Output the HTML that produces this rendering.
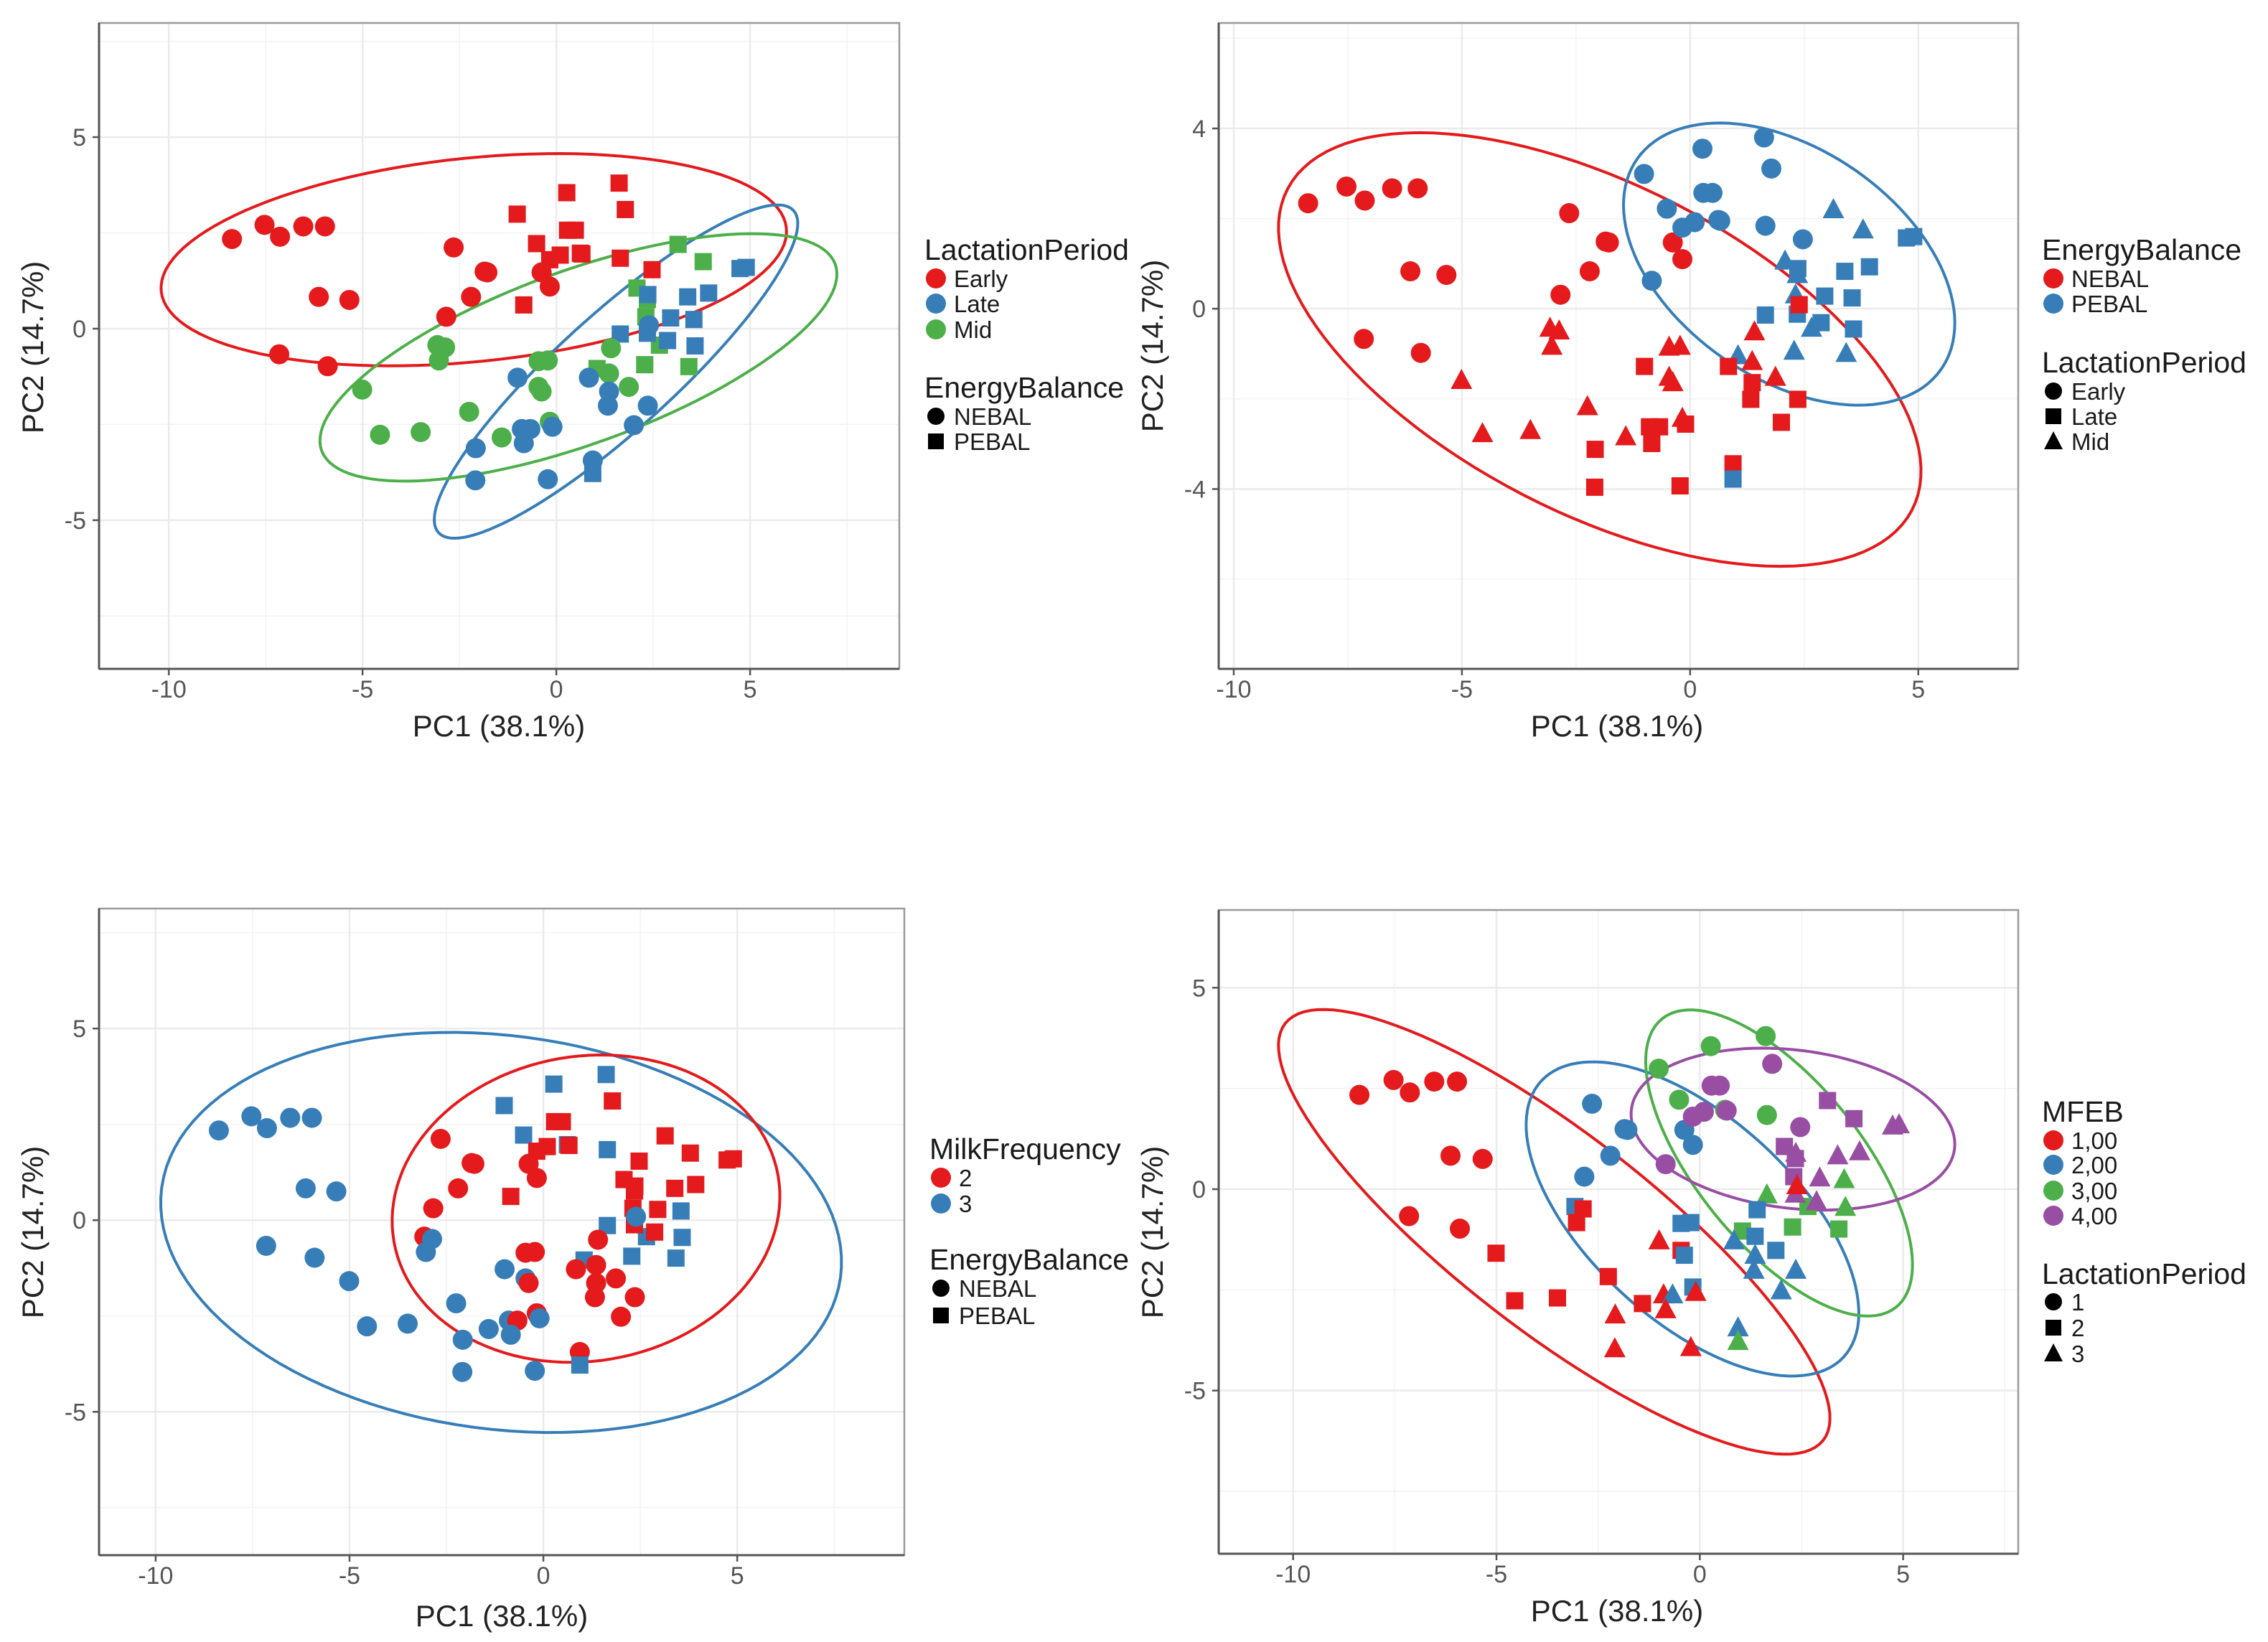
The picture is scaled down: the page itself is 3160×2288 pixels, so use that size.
<!DOCTYPE html>
<html><head><meta charset="utf-8">
<style>
html,body{margin:0;padding:0;background:#fff;}
svg{display:block;font-family:"Liberation Sans",Arial,sans-serif;}
</style></head>
<body>
<svg id="fig" width="3160" height="2288" viewBox="0 0 3160 2288" xmlns="http://www.w3.org/2000/svg">
<rect width="3160" height="2288" fill="#fff"/>
</svg>
<script>
// ---- shared PCA sample data ----
const pc1 = [-8.37,-7.53,-7.13,-6.53,-5.97,-6.13,-5.34,-7.15,-5.90,-2.65,-1.85,-1.78,-2.20,-2.84,-0.38,-0.17,
 -1.01,0.27,1.62,1.78,0.29,0.49,-0.51,0.62,0.66,0.10,-0.17,1.65,2.47,-0.84,
 3.14,3.79,2.08,2.35,2.31,2.66,2.28,3.42,1.05,
 2.36,3.39,3.93,2.95,3.55,1.65,2.35,2.87,3.58,4.74,4.90,2.39,
 -3.07,-2.87,-3.03,-5.01,-4.55,-3.50,-2.25,-1.41,-0.46,-0.22,-0.46,-0.38,-0.17,1.41,1.36,1.87,
 -1.00,0.84,1.36,1.33,2.36,2.00,-0.89,-0.67,-0.10,-0.84,-2.08,-2.09,-0.22,0.94,0.94];
const pc2 = [2.34,2.71,2.40,2.67,2.67,0.83,0.75,-0.67,-0.98,2.12,1.49,1.47,0.83,0.31,1.47,1.10,
 2.99,3.55,3.80,3.11,2.57,2.57,2.22,1.97,1.95,1.92,1.80,1.84,1.54,0.62,
 2.20,1.75,1.06,0.76,0.31,-0.43,-0.94,-0.99,-1.04,
 0.89,0.83,0.93,0.28,0.24,-0.14,-0.12,-0.31,-0.45,1.57,1.60,0.09,
 -0.43,-0.49,-0.83,-1.59,-2.77,-2.70,-2.17,-2.84,-0.85,-0.83,-1.52,-1.64,-2.43,-0.51,-1.17,-1.52,
 -1.28,-1.28,-1.64,-2.01,-2.01,-2.52,-2.62,-2.62,-2.56,-2.99,-3.12,-3.96,-3.93,-3.44,-3.78];
const lactation = "EEEEEEEEEEEEEEEEEEEEEEEEEEEEEEMMMMMMMMMLLLLLLLLLLLLMMMMMMMMMMMMMMMMLLLLLLLLLLLLLLL".split("");
const energy = "NNNNNNNNNNNNNNNNPPPPPPPPPPPPPPPPPPPPPPPPPPPPPPPPPPNNNNNNNNNNNNNNNNNNNNNNNNNNNNNNN".split("");
const milkFreq = [3,3,3,3,3,3,3,3,3,2,2,2,2,2,2,2,
 3,3,3,2,2,2,3,3,2,2,2,3,2,2,
 2,2,2,2,2,3,3,3,3,
 2,2,2,2,3,3,2,2,3,2,2,3,
 2,3,3,3,3,3,3,3,2,2,3,2,2,2,2,2,
 3,2,2,2,2,2,3,2,3,3,3,3,3,2,3];

// ---- ellipse summaries (data units): centre x, centre y, half-width, half-height, x-offset of top point ----
const ell1 = {cx:[-2.13,1.54,0.57], cy:[1.80,-1.12,-0.75], wx:[8.07,4.69,6.67], wy:[2.77,4.35,3.23], dt:[2.15,4.17,4.49], col:["#E41A1C","#377EB8","#4DAF4A"]};
const ell2 = {cx:[-1.98,2.17], cy:[-0.905,0.99], wx:[7.04,3.63], wy:[4.81,3.13], dt:[-3.95,-1.52], col:["#E41A1C","#377EB8"]};
const ell3 = {cx:[-1.09,1.10], cy:[-0.32,0.30], wx:[8.78,5.0], wy:[5.22,4.01], dt:[-1.3,0.4], col:["#377EB8","#E41A1C"]};
const ell4 = {cx:[-3.58,-0.18,1.95,2.29], cy:[-1.06,-0.74,0.65,1.49], wx:[6.78,4.09,3.28,3.98], wy:[5.52,3.90,3.80,2.01], dt:[-5.68,-2.45,-2.18,-0.74], col:["#E41A1C","#377EB8","#4DAF4A","#984EA3"]};

const RED="#E41A1C", BLUE="#377EB8", GREEN="#4DAF4A", PURPLE="#984EA3";
const NS="http://www.w3.org/2000/svg";
const svg=document.getElementById('fig');
function mk(tag,attrs,parent){const e=document.createElementNS(NS,tag);for(const k in attrs)e.setAttribute(k,attrs[k]);(parent||svg).appendChild(e);return e;}

function panel(cfg){
  const g=mk('g',{});
  
  
  const X=v=>cfg.x0+(v-cfg.xmin)/(cfg.xmax-cfg.xmin)*(cfg.x1-cfg.x0);
  const Y=v=>cfg.y1-(v-cfg.ymin)/(cfg.ymax-cfg.ymin)*(cfg.y1-cfg.y0);
  const inX=v=>v>cfg.xmin&&v<cfg.xmax, inY=v=>v>cfg.ymin&&v<cfg.ymax;
  mk('rect',{x:cfg.x0,y:cfg.y0,width:cfg.x1-cfg.x0,height:cfg.y1-cfg.y0,fill:'#fff'},g);
  // grid
  cfg.xminor.filter(inX).forEach(v=>{const l=mk('line',{x1:X(v),x2:X(v),y1:cfg.y0,y2:cfg.y1,stroke:'#F3F3F3','stroke-width':1.5},g);});
  cfg.yminor.filter(inY).forEach(v=>{const l=mk('line',{y1:Y(v),y2:Y(v),x1:cfg.x0,x2:cfg.x1,stroke:'#F3F3F3','stroke-width':1.5},g);});
  cfg.xticks.forEach(v=>{const l=mk('line',{x1:X(v),x2:X(v),y1:cfg.y0,y2:cfg.y1,stroke:'#EBEBEB','stroke-width':2.5},g);});
  cfg.yticks.forEach(v=>{const l=mk('line',{y1:Y(v),y2:Y(v),x1:cfg.x0,x2:cfg.x1,stroke:'#EBEBEB','stroke-width':2.5},g);});
  // ellipses
  const E=cfg.ell;
  for(let i=0;i<E.cx.length;i++){
    const wx=E.wx[i],wy=E.wy[i],dt=E.dt[i];
    const d1=wx*wx-wy*wy, d2=2*dt*wy;
    const P=Math.sqrt(d1*d1+d2*d2), th=0.5*Math.atan2(d2,d1);
    const a=Math.sqrt((wx*wx+wy*wy+P)/2), b=Math.sqrt(Math.max(0.01,(wx*wx+wy*wy-P)/2));
    let d='';
    for(let k=0;k<=120;k++){const t=k/120*2*Math.PI;
      const px=E.cx[i]+a*Math.cos(t)*Math.cos(th)-b*Math.sin(t)*Math.sin(th);
      const py=E.cy[i]+a*Math.cos(t)*Math.sin(th)+b*Math.sin(t)*Math.cos(th);
      d+=(k?'L':'M')+X(px).toFixed(1)+','+Y(py).toFixed(1);}
    const p=mk('path',{d:d+'Z',fill:'none',stroke:E.col[i],'stroke-width':4},g);
    
    
  }
  // points
  for(let i=0;i<pc1.length;i++){
    const cx=X(pc1[i]),cy=Y(pc2[i]);const col=cfg.color(i);const sh=cfg.shape(i);
    let m;
    if(sh==='c') m=mk('circle',{cx:cx,cy:cy,r:14,fill:col},g);
    else if(sh==='s') m=mk('rect',{x:cx-12,y:cy-12,width:24,height:24,fill:col},g);
    else m=mk('polygon',{points:`${cx},${cy-16} ${cx-15},${cy+12} ${cx+15},${cy+12}`,fill:col},g);
    
    
  }
  // border
  mk('rect',{x:cfg.x0,y:cfg.y0,width:cfg.x1-cfg.x0,height:cfg.y1-cfg.y0,fill:'none',stroke:'#9a9a9a','stroke-width':2.5},g);
  mk('line',{x1:cfg.x0,x2:cfg.x0,y1:cfg.y0,y2:cfg.y1,stroke:'#555','stroke-width':3},g);
  mk('line',{x1:cfg.x0,x2:cfg.x1,y1:cfg.y1,y2:cfg.y1,stroke:'#555','stroke-width':3},g);
  // ticks
  cfg.xticks.forEach((v,j)=>{mk('line',{x1:X(v),x2:X(v),y1:cfg.y1,y2:cfg.y1+9,stroke:'#555','stroke-width':2.5},g);
    const t=mk('text',{x:X(v),y:cfg.y1+40,'font-size':34,fill:'#555','text-anchor':'middle'},g);t.textContent=cfg.xlabels[j];
    });
  cfg.yticks.forEach((v,j)=>{mk('line',{x1:cfg.x0-9,x2:cfg.x0,y1:Y(v),y2:Y(v),stroke:'#555','stroke-width':2.5},g);
    const t=mk('text',{x:cfg.x0-18,y:Y(v)+12,'font-size':34,fill:'#555','text-anchor':'end'},g);t.textContent=cfg.ylabels[j];
    });
  const xt=mk('text',{x:cfg.xlx,y:cfg.xly+15,'font-size':42,fill:'#222','text-anchor':'middle'},g);xt.textContent='PC1 (38.1%)';
  
  const yt=mk('text',{x:0,y:0,'font-size':42,fill:'#222','text-anchor':'middle',transform:`translate(${cfg.ylx+15},${cfg.yly}) rotate(-90)`},g);yt.textContent='PC2 (14.7%)';
  
  // legend
  const lg=mk('g',{},g);
  
  
  cfg.legend.forEach(sec=>{
    const tt=mk('text',{x:cfg.lx,y:sec.ty+14,'font-size':41,fill:'#1a1a1a'},lg);tt.textContent=sec.title;
    
    sec.items.forEach((it,j)=>{const yy=sec.iy[j];const kx=cfg.lx+16;let k;
      if(it.s==='c') k=mk('circle',{cx:kx,cy:yy,r:it.c==='#000'?12:14,fill:it.c},lg);
      else if(it.s==='s') k=mk('rect',{x:kx-11,y:yy-11,width:22,height:22,fill:it.c},lg);
      else k=mk('polygon',{points:`${kx},${yy-14} ${kx-13},${yy+11} ${kx+13},${yy+11}`,fill:it.c},lg);
      
      const lt=mk('text',{x:cfg.lx+41,y:yy+12,'font-size':33,fill:'#1a1a1a'},lg);lt.textContent=it.t;
      });
  });
}
const ticks5=[-10,-5,0,5], minor5=[-7.5,-2.5,2.5,7.5];
const lpCol={E:RED,L:BLUE,M:GREEN};
panel({name:'panel-lactation-period',x0:138,x1:1253,y0:32,y1:932,xmin:-11.8,xmax:8.85,ymin:-8.88,ymax:7.98,
  xticks:ticks5,xlabels:['-10','-5','0','5'],xminor:minor5,yticks:[-5,0,5],ylabels:['-5','0','5'],yminor:minor5,
  ell:ell1,color:i=>lpCol[lactation[i]],shape:i=>energy[i]==='N'?'c':'s',
  xlx:695,xly:1011,ylx:45,yly:484,lx:1288,
  legend:[{title:'LactationPeriod',ty:348,iy:[388,423,459],items:[{s:'c',c:RED,t:'Early'},{s:'c',c:BLUE,t:'Late'},{s:'c',c:GREEN,t:'Mid'}]},
          {title:'EnergyBalance',ty:540,iy:[580,615],items:[{s:'c',c:'#000',t:'NEBAL'},{s:'s',c:'#000',t:'PEBAL'}]}]});
panel({name:'panel-energy-balance',x0:1698,x1:2812,y0:32,y1:932,xmin:-10.33,xmax:7.19,ymin:-7.99,ymax:6.34,
  xticks:ticks5,xlabels:['-10','-5','0','5'],xminor:minor5,yticks:[-4,0,4],ylabels:['-4','0','4'],yminor:[-6,-2,2,6],
  ell:ell2,color:i=>energy[i]==='N'?RED:BLUE,shape:i=>({E:'c',L:'s',M:'t'})[lactation[i]],
  xlx:2253,xly:1011,ylx:1605,yly:482,lx:2845,
  legend:[{title:'EnergyBalance',ty:348,iy:[388,423],items:[{s:'c',c:RED,t:'NEBAL'},{s:'c',c:BLUE,t:'PEBAL'}]},
          {title:'LactationPeriod',ty:505,iy:[545,580,615],items:[{s:'c',c:'#000',t:'Early'},{s:'s',c:'#000',t:'Late'},{s:'t',c:'#000',t:'Mid'}]}]});
panel({name:'panel-milk-frequency',x0:138,x1:1260,y0:1266,y1:2167,xmin:-11.46,xmax:9.31,ymin:-8.74,ymax:8.13,
  xticks:ticks5,xlabels:['-10','-5','0','5'],xminor:minor5,yticks:[-5,0,5],ylabels:['-5','0','5'],yminor:minor5,
  ell:ell3,color:i=>milkFreq[i]===2?RED:BLUE,shape:i=>energy[i]==='N'?'c':'s',
  xlx:699,xly:2251,ylx:45,yly:1717,lx:1295,
  legend:[{title:'MilkFrequency',ty:1601,iy:[1641,1677],items:[{s:'c',c:RED,t:'2'},{s:'c',c:BLUE,t:'3'}]},
          {title:'EnergyBalance',ty:1755,iy:[1795,1833],items:[{s:'c',c:'#000',t:'NEBAL'},{s:'s',c:'#000',t:'PEBAL'}]}]});
const mfebCol=[RED,BLUE,GREEN,PURPLE];
panel({name:'panel-mfeb',x0:1698,x1:2812,y0:1268,y1:2165,xmin:-11.83,xmax:7.83,ymin:-9.05,ymax:6.93,
  xticks:ticks5,xlabels:['-10','-5','0','5'],xminor:minor5,yticks:[-5,0,5],ylabels:['-5','0','5'],yminor:minor5,
  ell:ell4,color:i=>mfebCol[(energy[i]==='N'?0:2)+(milkFreq[i]===3?0:1)],shape:i=>({E:'c',M:'s',L:'t'})[lactation[i]],
  xlx:2253,xly:2244,ylx:1605,yly:1717,lx:2845,
  legend:[{title:'MFEB',ty:1549,iy:[1589,1623,1659,1694],items:[{s:'c',c:RED,t:'1,00'},{s:'c',c:BLUE,t:'2,00'},{s:'c',c:GREEN,t:'3,00'},{s:'c',c:PURPLE,t:'4,00'}]},
          {title:'LactationPeriod',ty:1775,iy:[1814,1850,1886],items:[{s:'c',c:'#000',t:'1'},{s:'s',c:'#000',t:'2'},{s:'t',c:'#000',t:'3'}]}]});
</script>
</body></html>
